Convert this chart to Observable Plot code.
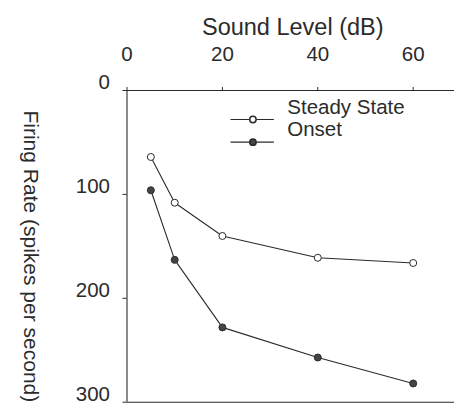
<!DOCTYPE html>
<html><head><meta charset="utf-8">
<script src="https://cdn.jsdelivr.net/npm/d3@7"></script>
<script src="https://cdn.jsdelivr.net/npm/@observablehq/plot@0.6"></script>
<style>
html,body{margin:0;padding:0;background:#fff;}
#chart svg{display:block;}
</style></head><body><div id="chart"></div>
<script>
const soundLevels = [5, 10, 20, 40, 60];
const steadyState = [64, 108, 140, 161, 166];
const onset = [96, 163, 228, 257, 282];
const seriesNames = ["Steady State", "Onset"];
const xTicks = [0, 20, 40, 60];
const yTicks = [0, 100, 200, 300];
const xTitle = "Sound Level (dB)";
const yTitle = "Firing Rate (spikes per second)";

const ink = "#2b2b2b";
const font = "'Liberation Sans', Arial, Helvetica, sans-serif";

const rows = [];
soundLevels.forEach((x, i) => {
  rows.push({series: seriesNames[0], x, y: steadyState[i]});
  rows.push({series: seriesNames[1], x, y: onset[i]});
});
const fillFor = s => s === seriesNames[0] ? "white" : "#444";
const legend = seriesNames.map((s, i) => ({series: s, i}));

const chart = Plot.plot({
  width: 454,
  height: 408,
  marginTop: 90,
  marginLeft: 126.5,
  marginRight: 0,
  marginBottom: 6.3,
  style: {fontFamily: font, color: ink, background: "white", overflow: "visible"},
  x: {domain: [0, 68.66], axis: null},
  y: {domain: [0, 300], reverse: true, axis: null},
  marks: [
    Plot.ruleX([0], {stroke: ink, strokeWidth: 1.1}),
    Plot.ruleY([0, 300], {stroke: ink, strokeWidth: 1.1}),
    Plot.axisX(xTicks, {anchor: "top", tickSize: 4, tickPadding: 26, fontSize: 20.5, label: null, stroke: ink, fill: ink}),
    Plot.axisY(yTicks, {anchor: "left", tickSize: 4, fill: "none", label: null, stroke: ink}),
    Plot.axisY(yTicks, {anchor: "left", tickSize: 0, tickPadding: 17, dy: -8, fontSize: 20.5, label: null, fill: ink}),
    Plot.text([xTitle], {frameAnchor: "top", textAnchor: "middle", dx: 2, dy: -72.5, fontSize: 23.5, fill: ink}),
    Plot.text([yTitle], {frameAnchor: "left", textAnchor: "middle", rotate: 90, dx: -96.5, dy: 10, fontSize: 21, fill: ink}),
    Plot.line(rows, {x: "x", y: "y", z: "series", stroke: ink, strokeWidth: 1.1}),
    Plot.dot(rows, {x: "x", y: "y", r: 3.5, stroke: ink, strokeWidth: 1, fill: d => fillFor(d.series)}),
    Plot.ruleY(legend, {x1: 21.8, x2: 30.9, y: d => 27.9 + 21.8 * d.i, stroke: ink, strokeWidth: 1.1}),
    Plot.dot(legend, {x: 26.4, y: d => 27.9 + 21.8 * d.i, r: 3.2, stroke: ink, fill: d => fillFor(d.series)}),
    Plot.text(legend, {x: 33.6, y: d => 16 + 21.8 * d.i, text: "series", textAnchor: "start", fontSize: 20.5, fill: ink})
  ]
});
document.getElementById("chart").append(chart);
</script></body></html>
